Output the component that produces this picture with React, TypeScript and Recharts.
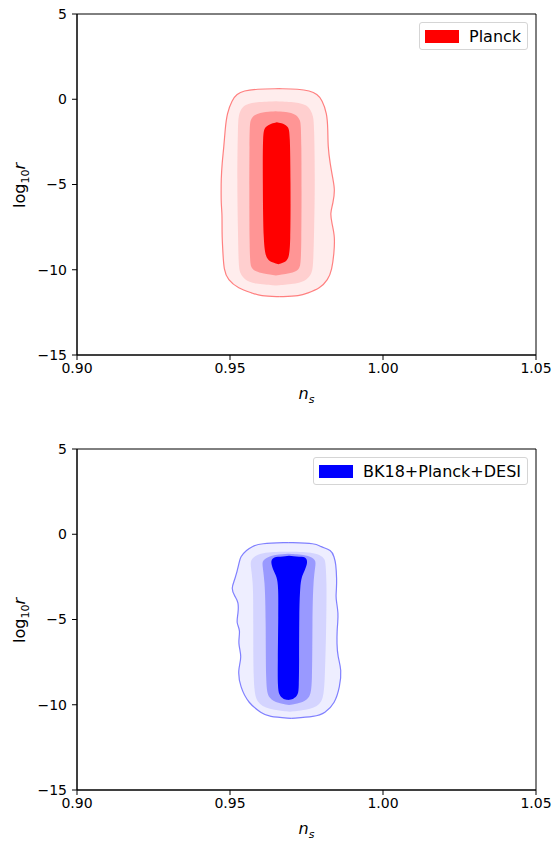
import { ComposedChart, Area, XAxis, YAxis, ReferenceArea } from "recharts";

type Contour = [number, number, number][];

// contour edges: [log10 r, ns left, ns right], top to bottom
const planck4: Contour = [
  [0.62, 0.966, 0.966],
  [0.6, 0.9585, 0.9725],
  [0.5, 0.9545, 0.976],
  [0.3, 0.9522, 0.9785],
  [-0.04, 0.9507, 0.9801],
  [-0.82, 0.949, 0.9817],
  [-1.8, 0.9484, 0.982],
  [-2.78, 0.948, 0.982],
  [-3.76, 0.9474, 0.9827],
  [-4.74, 0.9471, 0.9837],
  [-5.32, 0.9471, 0.9843],
  [-6.1, 0.9471, 0.9837],
  [-6.69, 0.9474, 0.9827],
  [-7.28, 0.9474, 0.9833],
  [-8.06, 0.9474, 0.9843],
  [-9.04, 0.9477, 0.984],
  [-10.01, 0.948, 0.9833],
  [-10.6, 0.9493, 0.982],
  [-11.09, 0.9526, 0.9794],
  [-11.38, 0.9575, 0.9752],
  [-11.54, 0.9598, 0.9729],
  [-11.58, 0.9663, 0.9663],
];

const planck3: Contour = [
  [-0.12, 0.965, 0.965],
  [-0.16, 0.9575, 0.9719],
  [-0.34, 0.9548, 0.975],
  [-0.63, 0.9534, 0.9764],
  [-1.0, 0.9528, 0.9772],
  [-1.5, 0.9526, 0.9775],
  [-4.74, 0.9523, 0.9778],
  [-7.67, 0.9526, 0.9775],
  [-9.8, 0.9528, 0.9772],
  [-10.21, 0.9533, 0.9767],
  [-10.6, 0.9548, 0.9752],
  [-10.84, 0.9578, 0.972],
  [-10.92, 0.965, 0.965],
];

const planck2: Contour = [
  [-0.71, 0.9649, 0.9649],
  [-0.75, 0.9604, 0.9696],
  [-0.92, 0.9578, 0.9717],
  [-1.22, 0.9567, 0.9729],
  [-1.6, 0.9563, 0.9734],
  [-9.43, 0.9563, 0.9734],
  [-9.92, 0.9569, 0.9728],
  [-10.17, 0.9589, 0.9712],
  [-10.33, 0.965, 0.965],
];

const planck1: Contour = [
  [-1.35, 0.9653, 0.9653],
  [-1.41, 0.9636, 0.9674],
  [-1.61, 0.9614, 0.9691],
  [-2.0, 0.9607, 0.9696],
  [-4.74, 0.9607, 0.9698],
  [-8.65, 0.9609, 0.9698],
  [-9.43, 0.962, 0.9691],
  [-9.59, 0.9642, 0.9674],
  [-9.68, 0.9658, 0.9658],
];

const bk4: Contour = [
  [-0.49, 0.969, 0.969],
  [-0.53, 0.9598, 0.9783],
  [-0.73, 0.9571, 0.9794],
  [-0.92, 0.9555, 0.9832],
  [-1.32, 0.9533, 0.984],
  [-1.7, 0.953, 0.9846],
  [-2.68, 0.9516, 0.9849],
  [-3.17, 0.9503, 0.9848],
  [-3.66, 0.9516, 0.9846],
  [-3.96, 0.9528, 0.9848],
  [-4.64, 0.9527, 0.9854],
  [-5.22, 0.952, 0.9852],
  [-5.62, 0.9535, 0.985],
  [-6.4, 0.9525, 0.9849],
  [-7.18, 0.954, 0.9852],
  [-7.96, 0.9525, 0.9865],
  [-8.94, 0.9533, 0.9859],
  [-9.92, 0.956, 0.9843],
  [-10.5, 0.9604, 0.981],
  [-10.7, 0.9625, 0.9778],
  [-10.8, 0.97, 0.97],
];

const bk3: Contour = [
  [-1.02, 0.969, 0.969],
  [-1.06, 0.9598, 0.9783],
  [-1.42, 0.9571, 0.981],
  [-1.7, 0.9565, 0.9812],
  [-2.68, 0.9576, 0.9816],
  [-5.0, 0.9576, 0.9815],
  [-8.94, 0.9576, 0.981],
  [-9.92, 0.9587, 0.9802],
  [-10.27, 0.9625, 0.9767],
  [-10.41, 0.9696, 0.9696],
];

const bk2: Contour = [
  [-1.14, 0.969, 0.969],
  [-1.22, 0.9631, 0.9761],
  [-1.52, 0.9609, 0.9778],
  [-1.7, 0.9604, 0.9781],
  [-2.68, 0.9614, 0.9772],
  [-5.0, 0.9617, 0.9769],
  [-8.94, 0.9617, 0.9769],
  [-9.62, 0.9625, 0.9761],
  [-9.92, 0.9658, 0.9729],
  [-10.01, 0.9693, 0.9693],
];

const bk1: Contour = [
  [-1.26, 0.9693, 0.9693],
  [-1.32, 0.9653, 0.974],
  [-1.42, 0.9636, 0.9751],
  [-1.7, 0.9634, 0.9753],
  [-2.1, 0.9641, 0.9745],
  [-2.49, 0.9653, 0.9734],
  [-3.07, 0.9658, 0.9729],
  [-4.64, 0.9658, 0.9726],
  [-7.57, 0.9656, 0.9726],
  [-8.94, 0.9656, 0.9725],
  [-9.43, 0.966, 0.9723],
  [-9.68, 0.9674, 0.9707],
  [-9.72, 0.969, 0.969],
];

const nsTicks = [0.9, 0.95, 1.0, 1.05];
const rTicks = [5, 0, -5, -10, -15];

const redShades = ["#ffeded", "#ffcfcf", "#ff9595", "#ff0000"];
const blueShades = ["#eeeeff", "#d4d4ff", "#9999ff", "#0000ff"];

const FONT = "DejaVu Sans, sans-serif";

function toRows(c: Contour) {
  return c.map(([r, lo, hi]) => ({ r, ns: [lo, hi] }));
}

function fmtR(v: number) {
  return v < 0 ? `\u2212${Math.abs(v)}` : String(v);
}

function NsLabel(props: any) {
  const vb = props.viewBox || { x: 0, y: 0, width: 0, height: 0 };
  return (
    <text
      x={vb.x + vb.width / 2}
      y={vb.y + 44}
      textAnchor="middle"
      fontFamily={FONT}
      fontSize={16}
      fontStyle="italic"
      fill="#000"
    >
      n<tspan fontSize={11} dy={4}>s</tspan>
    </text>
  );
}

function RLabel(props: any) {
  const vb = props.viewBox || { x: 0, y: 0, width: 0, height: 0 };
  const cy = vb.y + vb.height / 2 + 1;
  return (
    <text
      transform={`translate(25,${cy}) rotate(-90)`}
      textAnchor="middle"
      fontFamily={FONT}
      fontSize={16}
      fill="#000"
    >
      log<tspan fontSize={11} dy={4}>10</tspan>
      <tspan dy={-4} fontStyle="italic">r</tspan>
    </text>
  );
}

interface PanelProps {
  levels: Contour[];
  shades: string[];
  edge: string;
  margin: { top: number; right: number; left: number; bottom: number };
}

function Panel({ levels, shades, edge, margin }: PanelProps) {
  const tick = { fontSize: 14, fill: "#000", fontFamily: FONT };
  return (
    <ComposedChart width={553} height={422} layout="vertical" margin={margin}>
      <XAxis
        type="number"
        dataKey="ns"
        domain={[0.9, 1.05]}
        ticks={nsTicks}
        allowDataOverflow
        tickFormatter={(v: number) => v.toFixed(2)}
        tick={tick}
        tickSize={5}
        tickMargin={3}
        stroke="#000"
        height={40}
        label={<NsLabel />}
      />
      <YAxis
        type="number"
        dataKey="r"
        domain={[-15, 5]}
        ticks={rTicks}
        allowDataOverflow
        reversed
        tickFormatter={fmtR}
        tick={tick}
        tickSize={5}
        tickMargin={5}
        stroke="#000"
        width={77}
        label={<RLabel />}
      />
      {levels.map((c, i) => (
        <Area
          key={i}
          data={toRows(c)}
          dataKey="ns"
          type="basis"
          fill={shades[i]}
          fillOpacity={1}
          stroke={i === 0 ? edge : "none"}
          strokeWidth={1.2}
          dot={false}
          activeDot={false}
          isAnimationActive={false}
        />
      ))}
      <ReferenceArea
        x1={0.9}
        x2={1.05}
        y1={-15}
        y2={5}
        fill="none"
        stroke="#000"
        strokeWidth={1}
        ifOverflow="visible"
      />
    </ComposedChart>
  );
}

function LegendBox({ left, top, width, color, name }: { left: number; top: number; width: number; color: string; name: string }) {
  return (
    <div
      style={{
        position: "absolute",
        left,
        top,
        width,
        height: 28,
        boxSizing: "border-box",
        border: "1px solid #d5d5d5",
        borderRadius: 3,
        background: "#fff",
        display: "flex",
        alignItems: "center",
        paddingLeft: 5,
        fontFamily: FONT,
        fontSize: 16,
        color: "#000",
        whiteSpace: "nowrap",
      }}
    >
      <span style={{ display: "inline-block", width: 34, height: 13, background: color, marginRight: 10 }} />
      {name}
    </div>
  );
}

export default function App() {
  return (
    <div style={{ position: "absolute", left: 0, top: 0, width: 553, height: 844, background: "#fff" }}>
      <div style={{ position: "absolute", left: 0, top: 0 }}>
        <Panel
          levels={[planck4, planck3, planck2, planck1]}
          shades={redShades}
          edge="#ff8080"
          margin={{ top: 14, right: 17, left: 0, bottom: 27 }}
        />
      </div>
      <div style={{ position: "absolute", left: 0, top: 422 }}>
        <Panel
          levels={[bk4, bk3, bk2, bk1]}
          shades={blueShades}
          edge="#8080ff"
          margin={{ top: 27, right: 17, left: 0, bottom: 14 }}
        />
      </div>
      <LegendBox left={419} top={22} width={109} color="#ff0000" name="Planck" />
      <LegendBox left={313} top={457} width={215} color="#0000ff" name="BK18+Planck+DESI" />
    </div>
  );
}
